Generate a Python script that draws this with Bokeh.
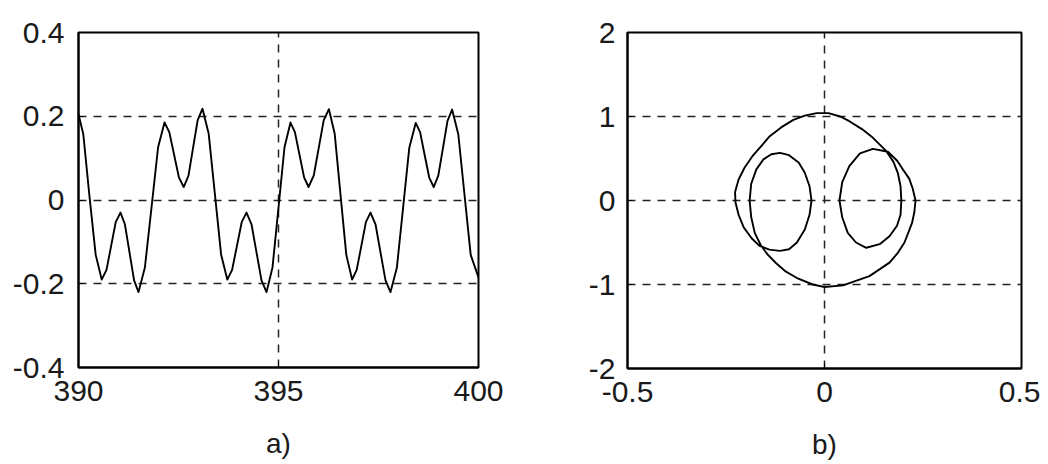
from bokeh.plotting import figure
from bokeh.layouts import row
from bokeh.models import FixedTicker
from bokeh.embed import file_html
from bokeh.resources import INLINE

# ---------------- panel a) : time signal ----------------
A_T = [390.0, 390.12, 390.27, 390.43, 390.58,
       390.70, 390.815, 390.93, 391.05,
       391.16, 391.275, 391.39, 391.5,
       391.66, 391.825, 391.99, 392.15,
       392.27, 392.39, 392.51, 392.63,
       392.75, 392.865, 392.98, 393.1,
       393.255, 393.41, 393.565, 393.72,
       393.84, 393.96, 394.08, 394.2,
       394.325, 394.45, 394.575, 394.7,
       394.85, 395.0, 395.15, 395.3,
       395.41, 395.525, 395.64, 395.75,
       395.88, 396.005, 396.13, 396.26,
       396.405, 396.55, 396.695, 396.84,
       396.955, 397.07, 397.185, 397.3,
       397.425, 397.55, 397.675, 397.8,
       397.96, 398.115, 398.27, 398.43,
       398.54, 398.655, 398.77, 398.88,
       398.995, 399.11, 399.225, 399.34,
       399.495, 399.65, 399.805, 400.0]
A_V = [0.205, 0.157, 0.013, -0.131, -0.19,
       -0.167, -0.11, -0.053, -0.03,
       -0.058, -0.125, -0.192, -0.22,
       -0.161, -0.018, 0.126, 0.185,
       0.162, 0.108, 0.054, 0.031,
       0.058, 0.125, 0.191, 0.218,
       0.158, 0.014, -0.130, -0.19,
       -0.167, -0.11, -0.053, -0.03,
       -0.058, -0.125, -0.192, -0.22,
       -0.161, -0.018, 0.126, 0.185,
       0.162, 0.108, 0.054, 0.031,
       0.058, 0.124, 0.190, 0.217,
       0.158, 0.013, -0.131, -0.19,
       -0.167, -0.11, -0.053, -0.03,
       -0.058, -0.125, -0.192, -0.22,
       -0.161, -0.018, 0.125, 0.184,
       0.162, 0.107, 0.053, 0.031,
       0.058, 0.123, 0.189, 0.216,
       0.157, 0.013, -0.131, -0.185]
A_XTICKS = [390, 395, 400]
A_XLABELS = ["390", "395", "400"]
A_YTICKS = [-0.4, -0.2, 0, 0.2, 0.4]
A_YLABELS = ["-0.4", "-0.2", "0", "0.2", "0.4"]
A_CAPTION = "a)"

# ---------------- panel b) : phase portrait ----------------
B_X = [0.231, 0.228, 0.222, 0.203, 0.185, 0.165, 0.114, 0.047, 0.0, -0.03,
       -0.071, -0.1, -0.122, -0.145, -0.162, -0.177, -0.186, -0.19,
       -0.186, -0.173, -0.155, -0.135, -0.113, -0.09, -0.065, -0.05, -0.038, -0.033,
       -0.038, -0.05, -0.07, -0.09, -0.113, -0.14, -0.165, -0.185, -0.205, -0.218, -0.226,
       -0.227, -0.218, -0.203, -0.183, -0.16, -0.139, -0.11, -0.079, -0.05, -0.02,
       0.01, 0.04, 0.063, 0.095, 0.123, 0.157, 0.175, 0.186, 0.193, 0.195,
       0.193, 0.184, 0.165, 0.14, 0.106, 0.08, 0.059, 0.045, 0.038,
       0.045, 0.063, 0.09, 0.123, 0.161, 0.185, 0.199, 0.215, 0.224, 0.231]
B_Y = [0.0, -0.14, -0.27, -0.50, -0.63, -0.74, -0.90, -1.01, -1.03, -1.0,
       -0.92, -0.84, -0.75, -0.64, -0.53, -0.385, -0.2, 0.0,
       0.2, 0.37, 0.49, 0.55, 0.567, 0.54, 0.45, 0.33, 0.17, 0.0,
       -0.17, -0.345, -0.5, -0.58, -0.60, -0.585, -0.54, -0.45, -0.32, -0.17, -0.02,
       0.1, 0.25, 0.39, 0.527, 0.65, 0.765, 0.87, 0.96, 1.01, 1.04,
       1.04, 1.0, 0.944, 0.85, 0.746, 0.587, 0.46, 0.33, 0.17, 0.0,
       -0.17, -0.3, -0.425, -0.52, -0.563, -0.5, -0.385, -0.2, 0.0,
       0.22, 0.41, 0.56, 0.615, 0.58, 0.47, 0.369, 0.26, 0.14, 0.0]
B_XTICKS = [-0.5, 0, 0.5]
B_XLABELS = ["-0.5", "0", "0.5"]
B_YTICKS = [-2, -1, 0, 1, 2]
B_YLABELS = ["-2", "-1", "0", "1", "2"]
B_CAPTION = "b)"

FONT = "Liberation Sans"
INK = "#1a1a1a"


def make_panel(xs, ys, xticks, xlabels, yticks, ylabels, caption,
               fw, fh, bl, br, bt, bb, ystand):
    p = figure(frame_width=fw, frame_height=fh,
               x_range=(xticks[0], xticks[-1]), y_range=(yticks[0], yticks[-1]),
               output_backend="svg", toolbar_location=None,
               min_border_left=bl, min_border_right=br,
               min_border_top=bt, min_border_bottom=bb,
               background_fill_color="white", border_fill_color="white")
    p.line(xs, ys, line_color="black", line_width=1.9, line_join="round")

    p.xaxis.ticker = FixedTicker(ticks=xticks)
    p.yaxis.ticker = FixedTicker(ticks=yticks)
    p.xaxis.major_label_overrides = dict(zip(xticks, xlabels))
    p.yaxis.major_label_overrides = dict(zip(yticks, ylabels))
    for ax in (p.xaxis[0], p.yaxis[0]):
        ax.major_label_text_font = FONT
        ax.major_label_text_font_size = "30px"
        ax.major_label_text_color = INK
        ax.major_tick_in = 5
        ax.major_tick_out = 0
        ax.minor_tick_line_color = None
        ax.major_tick_line_color = "black"
        ax.axis_line_color = "black"
        ax.axis_line_width = 2
    p.xaxis.major_label_standoff = 13
    p.yaxis.major_label_standoff = ystand

    # caption below the x axis
    p.xaxis.axis_label = caption
    p.xaxis.axis_label_text_font = FONT
    p.xaxis.axis_label_text_font_size = "28px"
    p.xaxis.axis_label_text_font_style = "normal"
    p.xaxis.axis_label_text_color = INK
    p.xaxis.axis_label_standoff = 24

    p.xgrid.ticker = FixedTicker(ticks=xticks[1:-1])
    p.ygrid.ticker = FixedTicker(ticks=yticks[1:-1])
    for g in (p.xgrid[0], p.ygrid[0]):
        g.grid_line_color = "#222222"
        g.grid_line_width = 1.5
        g.grid_line_dash = "8 7"

    p.outline_line_color = "black"
    p.outline_line_width = 2
    p.outline_line_alpha = 1.0
    return p


pa = make_panel(A_T, A_V, A_XTICKS, A_XLABELS, A_YTICKS, A_YLABELS, A_CAPTION,
                fw=400, fh=335, bl=78, br=42, bt=32, bb=90, ystand=14)
pb = make_panel(B_X, B_Y, B_XTICKS, B_XLABELS, B_YTICKS, B_YLABELS, B_CAPTION,
                fw=394, fh=336, bl=107, br=19, bt=32, bb=90, ystand=12)

layout = row(pa, pb)
open("out.html", "w").write(file_html(layout, INLINE))
